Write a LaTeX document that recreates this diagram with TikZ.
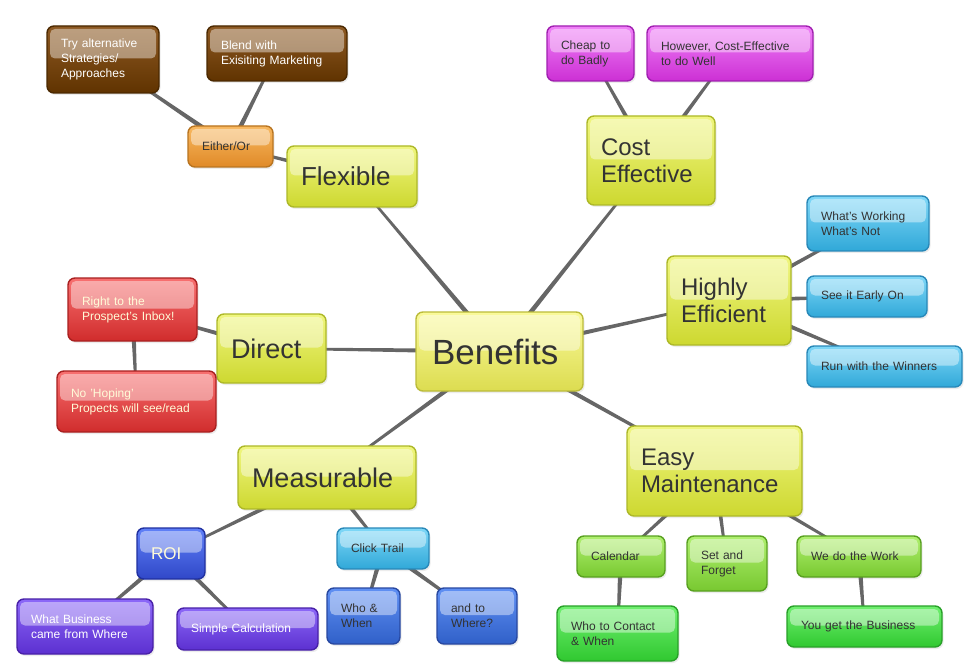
\documentclass[tikz,border=0pt]{standalone}
\usepackage{fontspec}
\setmainfont{Liberation Sans}
\usetikzlibrary{calc,shadows,backgrounds}

% fills: top / middle / bottom / border
\definecolor{txt}{HTML}{333333}
\definecolor{linkgray}{HTML}{666666}
\definecolor{yelT}{HTML}{F0F680}\definecolor{yelM}{HTML}{ECF53C}\definecolor{yelB}{HTML}{CDD830}\definecolor{yelD}{HTML}{ADB828}
\definecolor{benT}{HTML}{FAFA9A}\definecolor{benM}{HTML}{FAFA66}\definecolor{benB}{HTML}{DCDC50}\definecolor{benD}{HTML}{BCBC3A}
\definecolor{brnT}{HTML}{8E5A24}\definecolor{brnM}{HTML}{703E00}\definecolor{brnB}{HTML}{603300}\definecolor{brnD}{HTML}{4A2800}
\definecolor{orgT}{HTML}{F8B860}\definecolor{orgM}{HTML}{F4A038}\definecolor{orgB}{HTML}{E08A28}\definecolor{orgD}{HTML}{B87420}
\definecolor{magT}{HTML}{F080F8}\definecolor{magM}{HTML}{EC44F4}\definecolor{magB}{HTML}{CC30D4}\definecolor{magD}{HTML}{A020B0}
\definecolor{cyaT}{HTML}{80D8F8}\definecolor{cyaM}{HTML}{40C8F4}\definecolor{cyaB}{HTML}{30A8D8}\definecolor{cyaD}{HTML}{2888B8}
\definecolor{redT}{HTML}{F87070}\definecolor{redM}{HTML}{F04040}\definecolor{redB}{HTML}{D02C2C}\definecolor{redD}{HTML}{A82020}
\definecolor{roiT}{HTML}{6080F8}\definecolor{roiM}{HTML}{3C5CEC}\definecolor{roiB}{HTML}{3048C8}\definecolor{roiD}{HTML}{2030A0}
\definecolor{purT}{HTML}{8C68F8}\definecolor{purM}{HTML}{7040F4}\definecolor{purB}{HTML}{5C30D0}\definecolor{purD}{HTML}{4820A8}
\definecolor{bluT}{HTML}{6090F4}\definecolor{bluM}{HTML}{3C70E4}\definecolor{bluB}{HTML}{3060C8}\definecolor{bluD}{HTML}{2848A0}
\definecolor{limT}{HTML}{B0F070}\definecolor{limM}{HTML}{98EC44}\definecolor{limB}{HTML}{78C830}\definecolor{limD}{HTML}{58A020}
\definecolor{grnT}{HTML}{70F070}\definecolor{grnM}{HTML}{40EC40}\definecolor{grnB}{HTML}{30C830}\definecolor{grnD}{HTML}{28A028}
\definecolor{cream}{HTML}{FFFBD8}

\tikzset{
  bubble/.style={draw, rounded corners=7pt, line width=1.4pt, inner xsep=14pt, inner ysep=0pt,
    align=left, text=txt,
    drop shadow={shadow xshift=1.5pt, shadow yshift=-2pt, opacity=0.15},
    path picture={\fill[white, opacity=0.42, rounded corners=5pt]
      ([shift={(3pt,-3pt)}]path picture bounding box.north west) rectangle
      ([shift={(-3pt,1pt)}]path picture bounding box.east);}},
  small/.style={bubble, font=\fontsize{12}{15}\selectfont},
  big/.style={bubble, font=\fontsize{24}{27}\selectfont},
  paint/.style n args={4}{top color=#1, middle color=#2, bottom color=#3, draw=#4},
  yel/.style={big, paint={yelT}{yelM}{yelB}{yelD}},
  brn/.style={small, paint={brnT}{brnM}{brnB}{brnD}, text=white},
  org/.style={small, paint={orgT}{orgM}{orgB}{orgD}},
  mag/.style={small, paint={magT}{magM}{magB}{magD}},
  cya/.style={small, paint={cyaT}{cyaM}{cyaB}{cyaD}},
  rd/.style={small, paint={redT}{redM}{redB}{redD}, text=cream},
  pur/.style={small, paint={purT}{purM}{purB}{purD}, text=white},
  blu/.style={small, paint={bluT}{bluM}{bluB}{bluD}},
  lim/.style={small, paint={limT}{limM}{limB}{limD}},
  grn/.style={small, paint={grnT}{grnM}{grnB}{grnD}},
  link/.style={fill=linkgray}
}

\begin{document}
\begin{tikzpicture}[x=1pt, y=-1pt]
\useasboundingbox (0,0) rectangle (972,671);

% centre
\node[big, paint={benT}{benM}{benB}{benD}, font=\fontsize{35}{38}\selectfont, inner xsep=16pt,
  text width=135pt, minimum height=79pt] (ben) at (499.5,351.5) {Benefits};

% main branches
\node[yel, font=\fontsize{26}{28}\selectfont, text width=102pt, minimum height=61pt] (flex) at (352,176.5) {Flexible};
\node[yel, text width=100pt, minimum height=89pt] (cost) at (651,160.5) {Cost\\Effective};
\node[yel, text width=96pt, minimum height=89pt] (highly) at (729,300.5) {Highly\\Efficient};
\node[yel, font=\fontsize{27}{29}\selectfont, text width=81pt, minimum height=69pt] (direct) at (271.5,348.5) {Direct};
\node[yel, font=\fontsize{27}{29}\selectfont, text width=150pt, minimum height=63pt] (meas) at (327,477.5) {Measurable};
\node[yel, text width=147pt, minimum height=90pt] (easy) at (714.5,471) {Easy\\Maintenance};

% Flexible
\node[org, text width=57pt, minimum height=41pt] (either) at (230.5,146.5) {Either/Or};
\node[brn, text width=84pt, minimum height=67pt] (tryalt) at (103,59.5) {Try alternative\\Strategies/\\Approaches};
\node[brn, text width=112pt, minimum height=55pt] (blend) at (277,53.5) {Blend with\\Exisiting Marketing};

% Cost Effective
\node[mag, text width=59pt, minimum height=55pt] (cheap) at (590.5,53.5) {Cheap to\\do Badly};
\node[mag, text width=138pt, minimum height=55pt] (however) at (730,53.5) {However, Cost-Effective\\to do Well};

% Highly Efficient
\node[cya, text width=94pt, minimum height=55pt] (working) at (868,223.5) {What's Working\\What's Not};
\node[cya, text width=92pt, minimum height=41pt] (early) at (867,296.5) {See it Early On};
\node[cya, text width=127pt, minimum height=41pt] (winners) at (884.5,366.5) {Run with the Winners};

% Direct
\node[rd, text width=101pt, minimum height=63pt] (inbox) at (132.5,309.5) {Right to the\\Prospect's Inbox!};
\node[rd, text width=131pt, minimum height=61pt] (hoping) at (136.5,401.5) {No 'Hoping'\\Propects will see/read};

% Measurable
\node[small, paint={roiT}{roiM}{roiB}{roiD}, text=cream, font=\fontsize{17}{19}\selectfont,
  text width=40pt, minimum height=51pt] (roi) at (171,553.5) {ROI};
\node[pur, text width=108pt, minimum height=55pt] (whatbiz) at (85,626.5) {What Business\\came from Where};
\node[pur, text width=113pt, minimum height=42pt] (simple) at (247.5,629) {Simple Calculation};
\node[cya, text width=64pt, minimum height=41pt] (click) at (383,548.5) {Click Trail};
\node[blu, text width=45pt, minimum height=56pt] (whowhen) at (363.5,616) {Who \&\\When};
\node[blu, text width=52pt, minimum height=56pt] (where) at (477,616) {and to\\Where?};

% Easy Maintenance
\node[lim, text width=60pt, minimum height=41pt] (calendar) at (621,556.5) {Calendar};
\node[lim, text width=52pt, minimum height=55pt] (setforget) at (727,563.5) {Set and\\Forget};
\node[lim, text width=96pt, minimum height=41pt] (work) at (859,556.5) {We do the Work};
\node[grn, text width=93pt, minimum height=55pt] (contact) at (617.5,633.5) {Who to Contact\\\& When};
\node[grn, text width=127pt, minimum height=41pt] (business) at (864.5,626.5) {You get the Business};

% tapered links, parent/child
\begin{pgfonlayer}{background}
\fill[white] (0,0) rectangle (972,671);
\foreach \p/\c in {ben/flex, ben/cost, ben/highly, ben/direct, ben/meas, ben/easy,
    flex/either, either/tryalt, either/blend, cost/cheap, cost/however,
    highly/working, highly/early, highly/winners, direct/inbox, inbox/hoping,
    meas/roi, meas/click, roi/whatbiz, roi/simple, click/whowhen, click/where,
    easy/calendar, easy/setforget, easy/work, calendar/contact, work/business}
  \fill[link] ($(\p.center)!2.6pt!90:(\c.center)$) -- ($(\c.center)!1pt!-90:(\p.center)$)
    -- ($(\c.center)!1pt!90:(\p.center)$) -- ($(\p.center)!2.6pt!-90:(\c.center)$) -- cycle;
\end{pgfonlayer}
\end{tikzpicture}
\end{document}
